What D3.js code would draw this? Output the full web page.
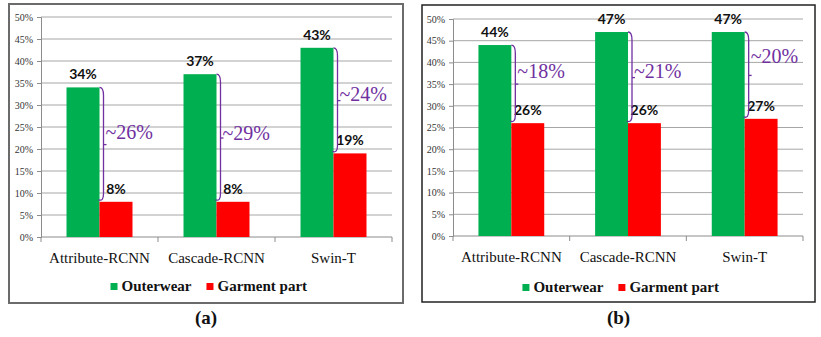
<!DOCTYPE html>
<html lang="en">
<head>
<meta charset="UTF-8">
<title>Outerwear vs Garment part</title>
<script src="https://cdn.jsdelivr.net/npm/d3@7"></script>
<style>
  * { margin: 0; padding: 0; }
  body { background: #fff; width: 821px; height: 337px; overflow: hidden; }
  svg { display: block; }
  .tick-lbl { font-family: "Liberation Serif", "DejaVu Serif", serif; font-size: 10px; fill: #333; }
  .cat-lbl { font-family: "Liberation Serif", "DejaVu Serif", serif; font-size: 15px; fill: #111; }
  .val-lbl { font-family: Lato, "Liberation Sans", sans-serif; font-weight: 700; font-size: 14px; fill: #111; }
  .gap-lbl { font-family: "Liberation Serif", "DejaVu Serif", serif; font-size: 20px; fill: #7030a0; }
  .leg-lbl { font-family: "Liberation Serif", "DejaVu Serif", serif; font-weight: 700; font-size: 15px; fill: #111; }
  .caption { font-family: "Liberation Serif", "DejaVu Serif", serif; font-weight: 700; font-size: 19px; fill: #111; }
</style>
</head>
<body>
<svg id="chart" width="821" height="337"></svg>
<script>
// data
const categories = ['Attribute-RCNN', 'Cascade-RCNN', 'Swin-T'];
const seriesNames = ['Outerwear', 'Garment part'];
const outerwearA = [34, 37, 43];
const garmentA = [8, 8, 19];
const outerwearB = [44, 47, 47];
const garmentB = [26, 26, 27];
const yTicks = [0, 5, 10, 15, 20, 25, 30, 35, 40, 45, 50];
const captions = ['(a)', '(b)'];
// small vertical nudges of the "~xx%" labels, as in the picture
const gapNudgeA = [-6, 2, 0];
const gapNudgeB = [-6, 0, -12];

const colors = { Outerwear: '#00b050', 'Garment part': '#ff0000' };
const purple = '#7030a0';

const svg = d3.select('#chart');

function drawPanel(opt) {
  const { box, plot, outer, garment, nudge, caption, frameColor, frameWidth } = opt;

  // frame
  svg.append('rect')
    .attr('x', box.x).attr('y', box.y)
    .attr('width', box.w).attr('height', box.h)
    .attr('fill', 'none')
    .attr('stroke', frameColor).attr('stroke-width', frameWidth);

  const g = svg.append('g');

  const y = d3.scaleLinear().domain([0, 50]).range([plot.bottom, plot.top]);
  const x = d3.scaleBand().domain(categories)
    .range([plot.left, plot.right]).paddingInner(0.436).paddingOuter(0.218);
  const xs = d3.scaleBand().domain(seriesNames).range([0, x.bandwidth()]);

  // gridlines
  g.append('g').selectAll('line')
    .data(yTicks.filter(t => t > 0)).join('line')
    .attr('x1', plot.left).attr('x2', plot.right)
    .attr('y1', d => y(d)).attr('y2', d => y(d))
    .attr('stroke', '#a6a6a6').attr('stroke-width', 1);

  // y axis
  const yAxis = g.append('g')
    .attr('transform', `translate(${plot.left},0)`)
    .call(d3.axisLeft(y).tickValues(yTicks).tickSize(4).tickPadding(4).tickFormat(d => d + '%'));
  yAxis.attr('font-family', null).attr('font-size', null);
  yAxis.select('.domain').attr('stroke', '#8c8c8c');
  yAxis.selectAll('.tick line').attr('stroke', '#8c8c8c');
  yAxis.selectAll('.tick text').attr('class', 'tick-lbl').attr('fill', null);

  // x axis line and boundary ticks
  const bounds = [plot.left].concat(categories.map(c => x(c) + x.bandwidth() + x.step() * 0.218));
  g.append('line')
    .attr('x1', plot.left).attr('x2', plot.right)
    .attr('y1', y(0)).attr('y2', y(0))
    .attr('stroke', '#8c8c8c');
  g.append('g').selectAll('line')
    .data(bounds).join('line')
    .attr('x1', d => d).attr('x2', d => d)
    .attr('y1', y(0)).attr('y2', y(0) + 5)
    .attr('stroke', '#8c8c8c');

  g.append('g').selectAll('text')
    .data(categories).join('text')
    .attr('class', 'cat-lbl')
    .attr('text-anchor', 'middle')
    .attr('x', d => x(d) + x.bandwidth() / 2)
    .attr('y', y(0) + 26)
    .text(d => d);

  // bars
  const rows = categories.map((c, i) => ({ cat: c, Outerwear: outer[i], 'Garment part': garment[i] }));
  const grp = g.append('g').selectAll('g')
    .data(rows).join('g')
    .attr('transform', d => `translate(${x(d.cat)},0)`);

  grp.selectAll('rect')
    .data(d => seriesNames.map(s => ({ s, v: d[s] }))).join('rect')
    .attr('x', d => xs(d.s))
    .attr('width', xs.bandwidth())
    .attr('y', d => y(d.v))
    .attr('height', d => y(0) - y(d.v))
    .attr('fill', d => colors[d.s]);

  grp.selectAll('text.val-lbl')
    .data(d => seriesNames.map(s => ({ s, v: d[s] }))).join('text')
    .attr('class', 'val-lbl')
    .attr('text-anchor', 'middle')
    .attr('x', d => xs(d.s) + xs.bandwidth() / 2)
    .attr('y', d => y(d.v) - 8)
    .text(d => d.v + '%');

  // braces showing the gap
  rows.forEach((d, i) => {
    const x0 = x(d.cat) + xs('Garment part');
    const xb = x0 + 4;
    const y0 = y(d.Outerwear);
    const y1 = y(d['Garment part']);
    const mid = (y0 + y1) / 2;
    g.append('path')
      .attr('d', `M${x0},${y0} Q${xb},${y0} ${xb},${y0 + 8} L${xb},${y1 - 8} Q${xb},${y1} ${x0 - 1},${y1 - 2}`)
      .attr('fill', 'none').attr('stroke', purple).attr('stroke-width', 1.3);
    g.append('path')
      .attr('d', `M${xb},${mid} h3`)
      .attr('fill', 'none').attr('stroke', purple).attr('stroke-width', 1.3);
    g.append('text')
      .attr('class', 'gap-lbl')
      .attr('x', xb + 2)
      .attr('y', mid + nudge[i])
      .text('~' + (d.Outerwear - d['Garment part']) + '%');
  });

  // legend
  const legY = box.y + 283;
  const legX = x(categories[0]) + 44;
  const leg = g.append('g').attr('transform', `translate(${legX},${legY})`);
  let off = 0;
  seriesNames.forEach(s => {
    leg.append('rect')
      .attr('x', off).attr('y', -4)
      .attr('width', 7).attr('height', 7)
      .attr('fill', colors[s]);
    const t = leg.append('text')
      .attr('class', 'leg-lbl')
      .attr('x', off + 11).attr('y', 4)
      .text(s);
    off += 11 + t.node().getComputedTextLength() + 15;
  });

  svg.append('text')
    .attr('class', 'caption')
    .attr('text-anchor', 'middle')
    .attr('x', box.x + box.w / 2)
    .attr('y', 324)
    .text(caption);
}

drawPanel({
  box: { x: 9, y: 4, w: 394, h: 299 },
  plot: { left: 41, right: 392, top: 17, bottom: 237 },
  outer: outerwearA, garment: garmentA, nudge: gapNudgeA,
  caption: captions[0], frameColor: '#6b6b6b', frameWidth: 2
});

drawPanel({
  box: { x: 422, y: 5, w: 393, h: 297 },
  plot: { left: 453, right: 803, top: 19, bottom: 236 },
  outer: outerwearB, garment: garmentB, nudge: gapNudgeB,
  caption: captions[1], frameColor: '#222', frameWidth: 1.5
});
</script>
</body>
</html>
